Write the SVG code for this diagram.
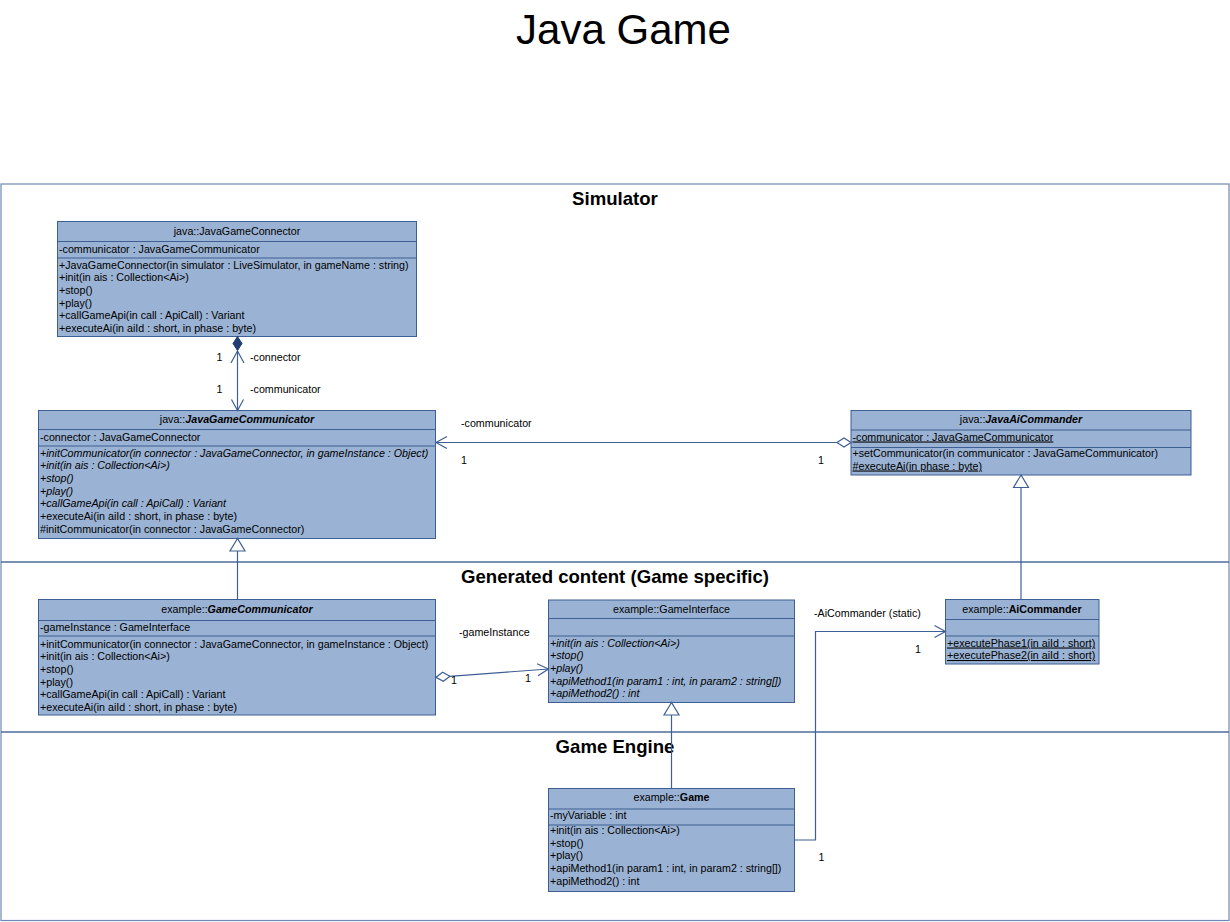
<svg xmlns="http://www.w3.org/2000/svg" width="1230" height="922" viewBox="0 0 1230 922">
<style>
.box{fill:#9ab2d3;stroke:#3d5f93;stroke-width:1}
.div{stroke:#3d5f93;stroke-width:1}
.t{font-family:"Liberation Sans",Arial,sans-serif;font-size:10.7px;fill:#000}
.c{text-anchor:middle}
.i{font-style:italic}
.b{font-weight:bold}
.u{text-decoration:underline}
.sec{font-family:"Liberation Sans",Arial,sans-serif;font-size:18.6px;font-weight:bold;text-anchor:middle;fill:#000}
.edge{fill:none;stroke:#3d5f93;stroke-width:1.2}
.frame{fill:none;stroke:#6d89b3;stroke-width:1.2}
.sep{stroke:#4e6c9a;stroke-width:1.6}
</style>
<defs>
<marker id="open" markerUnits="userSpaceOnUse" orient="auto" viewBox="-15 -10 30 20" markerWidth="30" markerHeight="20" refX="0" refY="0">
<path d="M-11,-6 L0,0 L-11,6" fill="none" stroke="#3d5f93" stroke-width="1.2"/>
</marker>
<marker id="tri" markerUnits="userSpaceOnUse" orient="auto" viewBox="-15 -10 30 20" markerWidth="30" markerHeight="20" refX="0" refY="0">
<path d="M0,0 L-12.5,-7.5 L-12.5,7.5 Z" fill="#fff" stroke="#3d5f93" stroke-width="1.2"/>
</marker>
<marker id="dia" markerUnits="userSpaceOnUse" orient="auto" viewBox="-5 -10 30 20" markerWidth="30" markerHeight="20" refX="0" refY="0">
<path d="M0,0 L7,-4.5 L14,0 L7,4.5 Z" fill="#fff" stroke="#3d5f93" stroke-width="1.2"/>
</marker>
<marker id="fdia" markerUnits="userSpaceOnUse" orient="auto" viewBox="-5 -10 30 20" markerWidth="30" markerHeight="20" refX="0" refY="0">
<path d="M0,0 L7,-4.5 L14,0 L7,4.5 Z" fill="#1f3f70" stroke="#1f3f70" stroke-width="1"/>
</marker>
</defs>

<text x="623.5" y="44" font-family="Liberation Sans, Arial, sans-serif" font-size="42" text-anchor="middle" fill="#000">Java Game</text>

<g id="frame">
<rect class="frame" x="1" y="184" width="1228" height="736.5"/>
<line class="sep" x1="1" y1="562" x2="1229" y2="562"/>
<line class="sep" x1="1" y1="732" x2="1229" y2="732"/>
<text class="sec" x="615" y="205">Simulator</text>
<text class="sec" x="615" y="583">Generated content (Game specific)</text>
<text class="sec" x="615" y="753">Game Engine</text>
</g>

<g id="JavaGameConnector">
<rect class="box" x="57.5" y="221.5" width="359" height="115"/>
<line class="div" x1="57.5" y1="241.5" x2="416.5" y2="241.5"/>
<line class="div" x1="57.5" y1="258" x2="416.5" y2="258"/>
<text class="t c" x="237" y="234.5">java::JavaGameConnector</text>
<text class="t" x="59" y="252.5">-communicator : JavaGameCommunicator</text>
<text class="t" x="59" y="268.5">+JavaGameConnector(in simulator : LiveSimulator, in gameName : string)</text>
<text class="t" x="59" y="281.2">+init(in ais : Collection&lt;Ai&gt;)</text>
<text class="t" x="59" y="293.8">+stop()</text>
<text class="t" x="59" y="306.5">+play()</text>
<text class="t" x="59" y="319.2">+callGameApi(in call : ApiCall) : Variant</text>
<text class="t" x="59" y="331.8">+executeAi(in aiId : short, in phase : byte)</text>
</g>

<g id="JavaGameCommunicator">
<rect class="box" x="38.5" y="410.5" width="397" height="128"/>
<line class="div" x1="38.5" y1="429.5" x2="435.5" y2="429.5"/>
<line class="div" x1="38.5" y1="446" x2="435.5" y2="446"/>
<text class="t c" x="237" y="422.5">java::<tspan class="b i">JavaGameCommunicator</tspan></text>
<text class="t" x="40" y="440.5">-connector : JavaGameConnector</text>
<text class="t i" x="40" y="456.5">+initCommunicator(in connector : JavaGameConnector, in gameInstance : Object)</text>
<text class="t i" x="40" y="469.2">+init(in ais : Collection&lt;Ai&gt;)</text>
<text class="t i" x="40" y="481.8">+stop()</text>
<text class="t i" x="40" y="494.5">+play()</text>
<text class="t i" x="40" y="507.2">+callGameApi(in call : ApiCall) : Variant</text>
<text class="t" x="40" y="519.8">+executeAi(in aiId : short, in phase : byte)</text>
<text class="t" x="40" y="532.5">#initCommunicator(in connector : JavaGameConnector)</text>
</g>

<g id="JavaAiCommander">
<rect class="box" x="851" y="410.5" width="340" height="64.5"/>
<line class="div" x1="851" y1="430" x2="1191" y2="430"/>
<line class="div" x1="851" y1="447.5" x2="1191" y2="447.5"/>
<text class="t c" x="1021" y="423">java::<tspan class="b i">JavaAiCommander</tspan></text>
<text class="t u" x="852.5" y="440.5">-communicator : JavaGameCommunicator</text>
<text class="t" x="852.5" y="457">+setCommunicator(in communicator : JavaGameCommunicator)</text>
<text class="t u" x="852.5" y="469.5">#executeAi(in phase : byte)</text>
</g>

<g id="GameCommunicator">
<rect class="box" x="38.5" y="599.5" width="397" height="115.5"/>
<line class="div" x1="38.5" y1="620.5" x2="435.5" y2="620.5"/>
<line class="div" x1="38.5" y1="636" x2="435.5" y2="636"/>
<text class="t c" x="237" y="613">example::<tspan class="b i">GameCommunicator</tspan></text>
<text class="t" x="40" y="630.5">-gameInstance : GameInterface</text>
<text class="t" x="40" y="647.5">+initCommunicator(in connector : JavaGameConnector, in gameInstance : Object)</text>
<text class="t" x="40" y="660.2">+init(in ais : Collection&lt;Ai&gt;)</text>
<text class="t" x="40" y="672.8">+stop()</text>
<text class="t" x="40" y="685.5">+play()</text>
<text class="t" x="40" y="698.2">+callGameApi(in call : ApiCall) : Variant</text>
<text class="t" x="40" y="710.8">+executeAi(in aiId : short, in phase : byte)</text>
</g>

<g id="GameInterface">
<rect class="box" x="548.5" y="600" width="246" height="102.5"/>
<line class="div" x1="548.5" y1="618.5" x2="794.5" y2="618.5"/>
<line class="div" x1="548.5" y1="636" x2="794.5" y2="636"/>
<text class="t c" x="671.5" y="612.5">example::GameInterface</text>
<text class="t i" x="550" y="646.5">+init(in ais : Collection&lt;Ai&gt;)</text>
<text class="t i" x="550" y="659.2">+stop()</text>
<text class="t i" x="550" y="671.8">+play()</text>
<text class="t i" x="550" y="684.5">+apiMethod1(in param1 : int, in param2 : string[])</text>
<text class="t i" x="550" y="697.2">+apiMethod2() : int</text>
</g>

<g id="AiCommander">
<rect class="box" x="945.5" y="599.5" width="153.5" height="64.5"/>
<line class="div" x1="945.5" y1="619.5" x2="1099" y2="619.5"/>
<line class="div" x1="945.5" y1="636" x2="1099" y2="636"/>
<text class="t c" x="1022" y="612.5">example::<tspan class="b">AiCommander</tspan></text>
<text class="t u" x="947" y="646.5">+executePhase1(in aiId : short)</text>
<text class="t u" x="947" y="659">+executePhase2(in aiId : short)</text>
</g>

<g id="Game">
<rect class="box" x="548.5" y="788.5" width="246" height="103"/>
<line class="div" x1="548.5" y1="809" x2="794.5" y2="809"/>
<line class="div" x1="548.5" y1="825" x2="794.5" y2="825"/>
<text class="t c" x="671.5" y="800.5">example::<tspan class="b">Game</tspan></text>
<text class="t" x="550" y="819">-myVariable : int</text>
<text class="t" x="550" y="834">+init(in ais : Collection&lt;Ai&gt;)</text>
<text class="t" x="550" y="846.7">+stop()</text>
<text class="t" x="550" y="859.3">+play()</text>
<text class="t" x="550" y="872">+apiMethod1(in param1 : int, in param2 : string[])</text>
<text class="t" x="550" y="884.7">+apiMethod2() : int</text>
</g>

<g id="connectors">
<path class="edge" d="M237.5,336.5 V410.5" marker-start="url(#fdia)" marker-end="url(#open)"/>
<path class="edge" d="M231,363 L237.5,351 L244,363"/>
<text class="t" x="216.5" y="361">1</text>
<text class="t" x="250" y="361">-connector</text>
<text class="t" x="216.5" y="393">1</text>
<text class="t" x="250" y="393">-communicator</text>

<path class="edge" d="M851,442.5 H436" marker-start="url(#dia)" marker-end="url(#open)"/>
<text class="t" x="461" y="427">-communicator</text>
<text class="t" x="461" y="464">1</text>
<text class="t" x="818" y="464">1</text>

<path class="edge" d="M237.5,599.5 V538.5" marker-end="url(#tri)"/>
<path class="edge" d="M1021,599.5 V475" marker-end="url(#tri)"/>
<path class="edge" d="M671.5,788.5 V702.5" marker-end="url(#tri)"/>

<path class="edge" d="M436,677.3 L548.5,669" marker-start="url(#dia)" marker-end="url(#open)"/>
<text class="t" x="459" y="636">-gameInstance</text>
<text class="t" x="451" y="684">1</text>
<text class="t" x="525" y="681.5">1</text>

<path class="edge" d="M794.5,840 H815.5 V631.5 H945.5" marker-end="url(#open)"/>
<text class="t" x="814" y="617">-AiCommander (static)</text>
<text class="t" x="915" y="653">1</text>
<text class="t" x="818.5" y="861">1</text>
</g>
</svg>
